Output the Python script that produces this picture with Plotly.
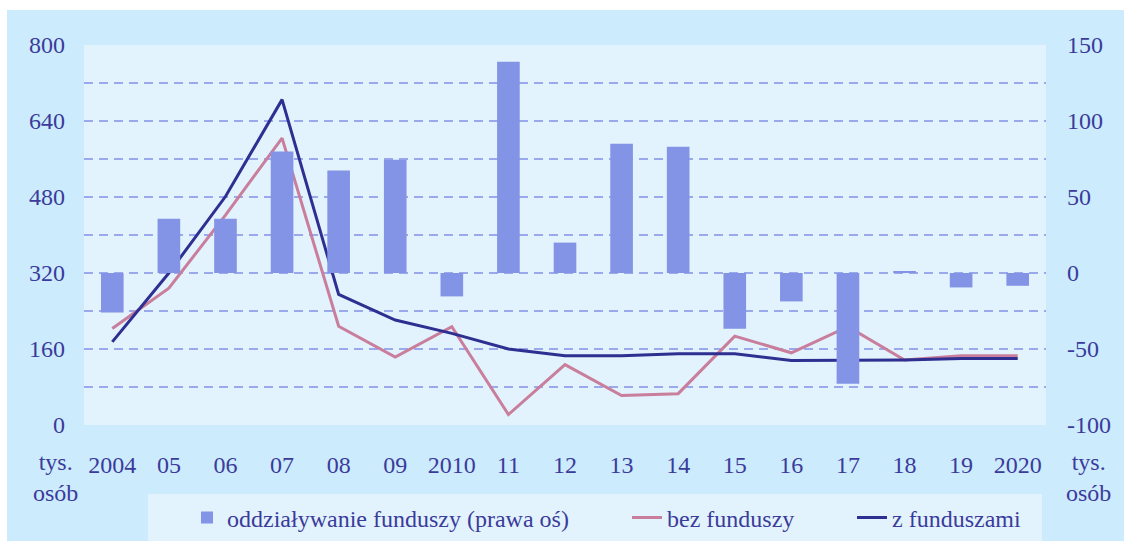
import plotly.graph_objects as go

years = ["2004", "05", "06", "07", "08", "09", "2010", "11", "12", "13", "14",
         "15", "16", "17", "18", "19", "2020"]
impact = [-26, 35.7, 35.7, 80, 67.5, 74.5, -15.4, 139, 20, 85, 83,
          -36.6, -18.7, -72.8, 0.9, -9.5, -8.4]
without_funds = [203, 288, 442, 604, 208, 143, 207, 22, 127, 62, 66,
                 187, 152, 207, 137, 146, 146]
with_funds = [175, 320, 481, 685, 275, 221, 193, 160, 146, 146, 150,
              150, 136, 136, 137, 140, 140]

left_ticks = [0, 160, 320, 480, 640, 800]
right_ticks = [-100, -50, 0, 50, 100, 150]
right_labels = ["-100", "-50", "0", "50", "100", "150"]

TXT = "#3B3B9B"
FONT = "Liberation Serif"
OUTER = "#CCEBFD"
INNER = "#E2F3FD"
GRID = "#9AA8EC"
DASH = "9px,6px"

fig = go.Figure()
fig.add_trace(go.Bar(x=years, y=impact, name="oddziaływanie funduszy (prawa oś)",
                     marker=dict(color="#8394E6", line=dict(width=0)),
                     width=0.4, yaxis="y2", legend="legend"))
fig.add_trace(go.Scatter(x=years, y=without_funds, name="bez funduszy", mode="lines",
                         line=dict(color="#C97E9B", width=3), legend="legend2"))
fig.add_trace(go.Scatter(x=years, y=with_funds, name="z funduszami", mode="lines",
                         line=dict(color="#2E2F91", width=3), legend="legend3"))

W, H = 1124, 541
L, R, T, B = 84, 78, 45, 116
pw = W - L - R
ph = H - T - B

def px_x(p):
    return (p - L) / pw

def px_y(p):
    return (H - B - p) / ph

shapes = [
    dict(type="rect", xref="paper", yref="paper", layer="below",
         x0=px_x(7), x1=px_x(W + 5), y0=px_y(H + 5), y1=px_y(10),
         fillcolor=OUTER, line=dict(width=0)),
    dict(type="rect", xref="paper", yref="paper", layer="below",
         x0=0, x1=1, y0=0, y1=1, fillcolor=INNER, line=dict(width=0)),
    dict(type="rect", xref="paper", yref="paper", layer="below",
         x0=px_x(148), x1=px_x(1042), y0=px_y(H + 5), y1=px_y(494),
         fillcolor=INNER, line=dict(width=0)),
]

annotations = [
    dict(text="tys.<br>osób", xref="paper", yref="paper", x=px_x(55), y=px_y(478),
         showarrow=False, xanchor="center", yanchor="middle",
         font=dict(family=FONT, size=24, color=TXT)),
    dict(text="tys.<br>osób", xref="paper", yref="paper", x=px_x(1088), y=px_y(478),
         showarrow=False, xanchor="center", yanchor="middle",
         font=dict(family=FONT, size=24, color=TXT)),
]

def legend_at(text_x):
    return dict(orientation="h", xref="container", yref="container",
                x=(text_x - 41) / W, y=1 - 518 / H, xanchor="left", yanchor="middle",
                bgcolor="rgba(0,0,0,0)", font=dict(family=FONT, size=24, color=TXT))

fig.update_layout(
    width=W, height=H,
    margin=dict(l=L, r=R, t=T, b=B, autoexpand=False),
    paper_bgcolor="white",
    plot_bgcolor="rgba(0,0,0,0)",
    font=dict(family=FONT, size=24, color=TXT),
    shapes=shapes,
    annotations=annotations,
    xaxis=dict(type="category", range=[-0.5, 16.5], showgrid=False, zeroline=False,
               showline=False, ticks="outside", ticklen=8, tickcolor="rgba(0,0,0,0)",
               ticklabelstandoff=10, tickfont=dict(size=24)),
    yaxis=dict(range=[0, 800], tickvals=left_ticks, showgrid=True, gridcolor=GRID,
               griddash=DASH, gridwidth=1.5, zeroline=False, showline=False,
               ticklabelstandoff=18,
               minor=dict(dtick=80, tick0=0, showgrid=True, gridcolor=GRID,
                          griddash=DASH, gridwidth=1.5)),
    yaxis2=dict(range=[-100, 150], tickvals=right_ticks, ticktext=right_labels,
                overlaying="y", side="right",
                showgrid=False, zeroline=False, showline=False, ticklabelstandoff=20),
    legend=legend_at(228),
    legend2=legend_at(668),
    legend3=legend_at(893),
    showlegend=True,
)

fig.write_html("out.html", config={"displayModeBar": False},
               post_script="document.body.style.margin='0';document.body.style.padding='0';")
